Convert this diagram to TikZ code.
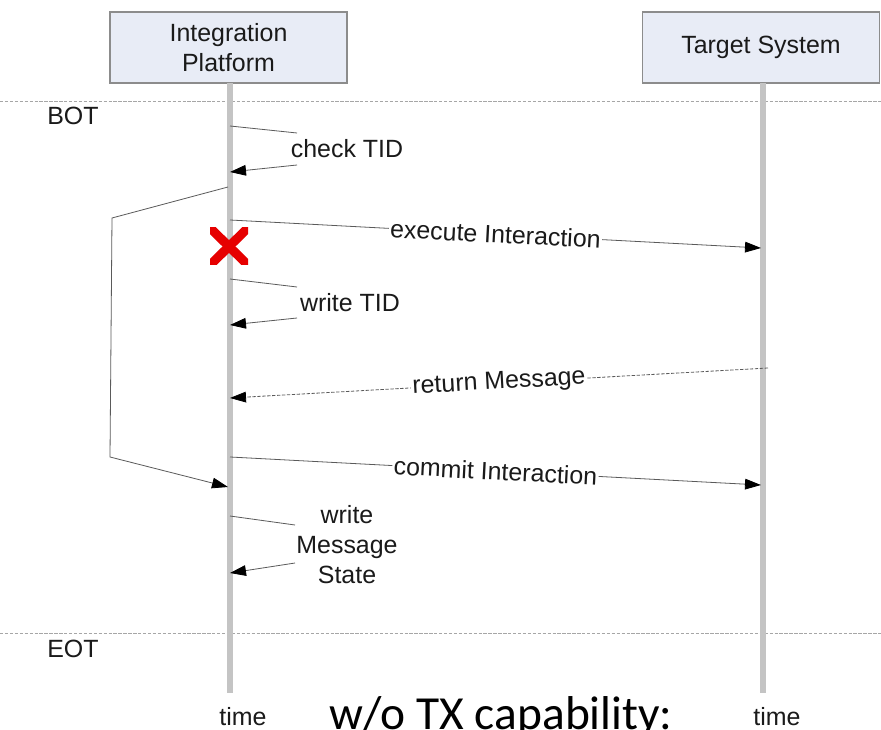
\documentclass[tikz,border=0pt]{standalone}
\usepackage{fontspec}
\setmainfont{Liberation Sans}
\newfontfamily\calibrifont{Carlito}
\usetikzlibrary{arrows.meta}
\definecolor{boxfill}{HTML}{E8ECF6}
\definecolor{boxline}{HTML}{8C8C8C}
\definecolor{lifegray}{HTML}{C4C4C4}
\definecolor{sepgray}{HTML}{A6A6A6}
\definecolor{msggray}{HTML}{5A5A5A}
\definecolor{xred}{HTML}{E60000}
\definecolor{txt}{HTML}{1A1A1A}
\tikzset{
  actorbox/.style={draw=boxline, fill=boxfill, line width=0.8pt, minimum width=177.75pt, minimum height=53.25pt, align=center, inner sep=0pt, text=txt},
  lifeline/.style={draw=lifegray, line width=4.8pt},
  sepline/.style={draw=sepgray, line width=0.6pt, dash pattern=on 2.5pt off 1.2pt},
  msgline/.style={draw=msggray, line width=0.6pt},
  msgarrow/.style={msggray, line width=0.6pt, -{Triangle[length=12pt,width=8pt,color=black,fill=black]}},
  retarrow/.style={msgarrow, dash pattern=on 2.5pt off 1.2pt},
  msglabel/.style={fill=white, inner sep=1pt, sloped, text=txt},
  plainlabel/.style={inner sep=0pt, align=center, text=txt}
}
\begin{document}
\begin{tikzpicture}[x=0.75pt,y=-0.75pt, font=\fontsize{18.7}{22.5}\selectfont]
\useasboundingbox (0,0) rectangle (881,730);
\fill[white] (0,0) rectangle (881,730);

% separators
\coordinate (botL) at (0,101);
\coordinate (botR) at (881,101);
\coordinate (eotL) at (0,633);
\coordinate (eotR) at (881,633);
\draw[sepline] (botL) -- (botR);
\draw[sepline] (eotL) -- (eotR);
\node[plainlabel, anchor=west] (bot) at (47,116) {BOT};
\node[plainlabel, anchor=west] (eot) at (47,649) {EOT};

% actors
\node[actorbox] (ip) at (228.5,47.5) {Integration\\Platform};
\node[actorbox] (ts) at (761,47.5) {Target System};

% lifelines
\coordinate (ipend) at (230,693);
\coordinate (tsend) at (763,693);
\draw[lifeline] (230,83.5) -- (ipend);
\draw[lifeline] (763,83.5) -- (tsend);
\node[inner sep=0pt, text=txt, anchor=base] (timeL) at (243,725) {time};
\node[inner sep=0pt, text=txt, anchor=base] (timeR) at (777,725) {time};

% check TID
\coordinate (c1) at (230,126);
\coordinate (c1e) at (297,133);
\coordinate (c2s) at (297,165);
\coordinate (c2) at (230,172);
\draw[msgline] (c1) -- (c1e);
\draw[msgarrow] (c2s) -- (c2);
\node[plainlabel] (chk) at (347,149) {check TID};

% bracket
\coordinate (b1) at (228,187);
\coordinate (b2) at (112,218);
\coordinate (b3) at (110,457);
\coordinate (b4) at (228,487);
\draw[msgarrow] (b1) -- (b2) -- (b3) -- (b4);

% execute Interaction
\coordinate (e1) at (230,220);
\coordinate (e2) at (761,248);
\draw[msgarrow] (e1) -- node[msglabel] (exec) {execute Interaction} (e2);

% red cross
\begin{scope}
  \clip (210,228) rectangle (248,265);
  \draw[xred, line width=6.8pt] (204,222) -- (254,271);
  \draw[xred, line width=6.8pt] (254,222) -- (204,271);
\end{scope}
\coordinate (xmark) at (229,246);

% write TID
\coordinate (w1) at (230,279);
\coordinate (w1e) at (297,287);
\coordinate (w2s) at (297,318);
\coordinate (w2) at (230,325);
\draw[msgline] (w1) -- (w1e);
\draw[msgarrow] (w2s) -- (w2);
\node[plainlabel] (wtid) at (350,303) {write TID};

% return Message
\coordinate (r1) at (768,368);
\coordinate (r2) at (230,398);
\draw[retarrow] (r1) -- node[msglabel] (ret) {return Message} (r2);

% commit Interaction
\coordinate (m1) at (230,457);
\coordinate (m2) at (761,485);
\draw[msgarrow] (m1) -- node[msglabel] (commit) {commit Interaction} (m2);

% write Message State
\coordinate (s1) at (230,516);
\coordinate (s1e) at (295,525);
\coordinate (s2s) at (295,563);
\coordinate (s2) at (230,573);
\draw[msgline] (s1) -- (s1e);
\draw[msgarrow] (s2s) -- (s2);
\node[plainlabel] (wms) at (347,545) {write\\Message\\State};

% caption (cut off at bottom, as in the reference)
\node[anchor=base west, inner sep=0pt, font=\calibrifont\fontsize{35.6}{40}\selectfont] (cap) at (329,729) {w/o TX capability:};
\end{tikzpicture}
\end{document}
